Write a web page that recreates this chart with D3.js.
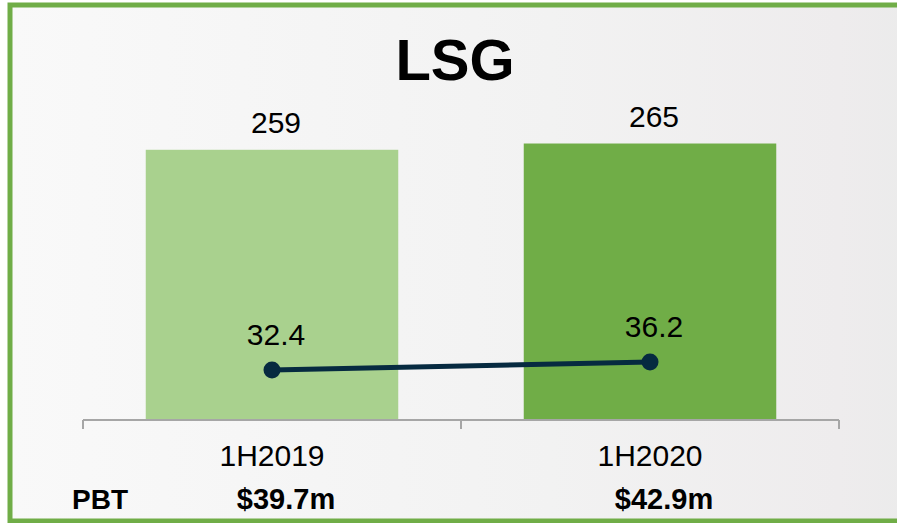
<!DOCTYPE html>
<html>
<head>
<meta charset="utf-8">
<script src="https://cdn.jsdelivr.net/npm/d3@7"></script>
<style>
  html, body { margin: 0; padding: 0; background: #fff; }
  svg { display: block; font-family: "Liberation Sans", Arial, sans-serif; }
</style>
</head>
<body>
<svg id="svg" width="897" height="523"></svg>
<script>
'use strict'

var categories = ['1H2019', '1H2020'];
var revenue = [259, 265];
var margin = [32.4, 36.2];
var pbt = ['$39.7m', '$42.9m'];
var title = 'LSG';

var svg = d3.select('#svg');

// background, light grey fading to the right
var grad = svg.append('defs').append('linearGradient')
    .attr('id', 'bg').attr('x1', 0).attr('x2', 1).attr('y1', 0).attr('y2', 0);
grad.append('stop').attr('offset', '0%').attr('stop-color', '#f9f9f9');
grad.append('stop').attr('offset', '60%').attr('stop-color', '#f2f2f2');
grad.append('stop').attr('offset', '92%').attr('stop-color', '#eeeced');
grad.append('stop').attr('offset', '100%').attr('stop-color', '#ebebeb');

svg.append('rect')
    .attr('x', 10).attr('y', 5).attr('width', 900).attr('height', 516)
    .attr('fill', 'url(#bg)')
    .attr('stroke', '#70ad47').attr('stroke-width', 5);

var x = d3.scaleBand()
    .domain(categories)
    .range([83, 839])
    .paddingInner(0.332)
    .paddingOuter(0.166);

var y = d3.scaleLinear().domain([0, 300]).range([420, 107]);
// secondary scale for the line
var y2 = d3.scaleLinear().domain([0, 150]).range([438.2, 122.4]);

svg.append('text')
    .attr('x', 455).attr('y', 80)
    .attr('text-anchor', 'middle')
    .attr('font-size', 58).attr('font-weight', 'bold')
    .text(title);

svg.selectAll('rect.bar')
    .data(revenue)
  .enter().append('rect')
    .attr('class', 'bar')
    .attr('x', function(d, i) { return x(categories[i]); })
    .attr('y', function(d) { return y(d); })
    .attr('width', x.bandwidth())
    .attr('height', function(d) { return y(0) - y(d); })
    .attr('fill', function(d, i) { return i ? '#70ad47' : '#a9d18e'; });

svg.selectAll('text.bar-label')
    .data(revenue)
  .enter().append('text')
    .attr('class', 'bar-label')
    .attr('x', function(d, i) { return x(categories[i]) + x.bandwidth() / 2 + 4; })
    .attr('y', function(d) { return y(d) - 17; })
    .attr('text-anchor', 'middle')
    .attr('font-size', 30)
    .text(function(d) { return d; });

// category axis: baseline plus ticks between categories
var ticks = [x.range()[0]].concat(categories.map(function(c) { return x(c) + x.bandwidth() + x.step() * x.paddingInner() / 2; }));
ticks[ticks.length - 1] = x.range()[1];
svg.append('line')
    .attr('x1', x.range()[0]).attr('x2', x.range()[1])
    .attr('y1', y(0)).attr('y2', y(0))
    .attr('stroke', '#a6a6a6').attr('stroke-width', 2);
svg.selectAll('line.tick')
    .data(ticks)
  .enter().append('line')
    .attr('class', 'tick')
    .attr('x1', function(d) { return d; }).attr('x2', function(d) { return d; })
    .attr('y1', y(0)).attr('y2', y(0) + 9)
    .attr('stroke', '#a6a6a6').attr('stroke-width', 2);

svg.selectAll('text.cat')
    .data(categories)
  .enter().append('text')
    .attr('class', 'cat')
    .attr('x', function(d) { return x(d) + x.bandwidth() / 2; })
    .attr('y', 466)
    .attr('text-anchor', 'middle')
    .attr('font-size', 30)
    .text(function(d) { return d; });

// margin line
var line = d3.line()
    .x(function(d, i) { return x(categories[i]) + x.bandwidth() / 2; })
    .y(function(d) { return y2(d); });

svg.append('path')
    .datum(margin)
    .attr('d', line)
    .attr('fill', 'none')
    .attr('stroke', '#062a40').attr('stroke-width', 5);

svg.selectAll('circle.pt')
    .data(margin)
  .enter().append('circle')
    .attr('class', 'pt')
    .attr('cx', function(d, i) { return x(categories[i]) + x.bandwidth() / 2; })
    .attr('cy', function(d) { return y2(d); })
    .attr('r', 8.5)
    .attr('fill', '#062a40');

svg.selectAll('text.pt-label')
    .data(margin)
  .enter().append('text')
    .attr('class', 'pt-label')
    .attr('x', function(d, i) { return x(categories[i]) + x.bandwidth() / 2 + 4; })
    .attr('y', function(d) { return y2(d) - 25; })
    .attr('text-anchor', 'middle')
    .attr('font-size', 30)
    .text(function(d) { return d.toFixed(1); });

// PBT row
svg.append('text')
    .attr('x', 72).attr('y', 509)
    .attr('font-size', 28).attr('font-weight', 'bold')
    .text('PBT');

svg.selectAll('text.pbt')
    .data(pbt)
  .enter().append('text')
    .attr('class', 'pbt')
    .attr('x', function(d, i) { return x(categories[i]) + x.bandwidth() / 2 + 14; })
    .attr('y', 509)
    .attr('text-anchor', 'middle')
    .attr('font-size', 29).attr('font-weight', 'bold')
    .text(function(d) { return d; });
</script>
</body>
</html>
